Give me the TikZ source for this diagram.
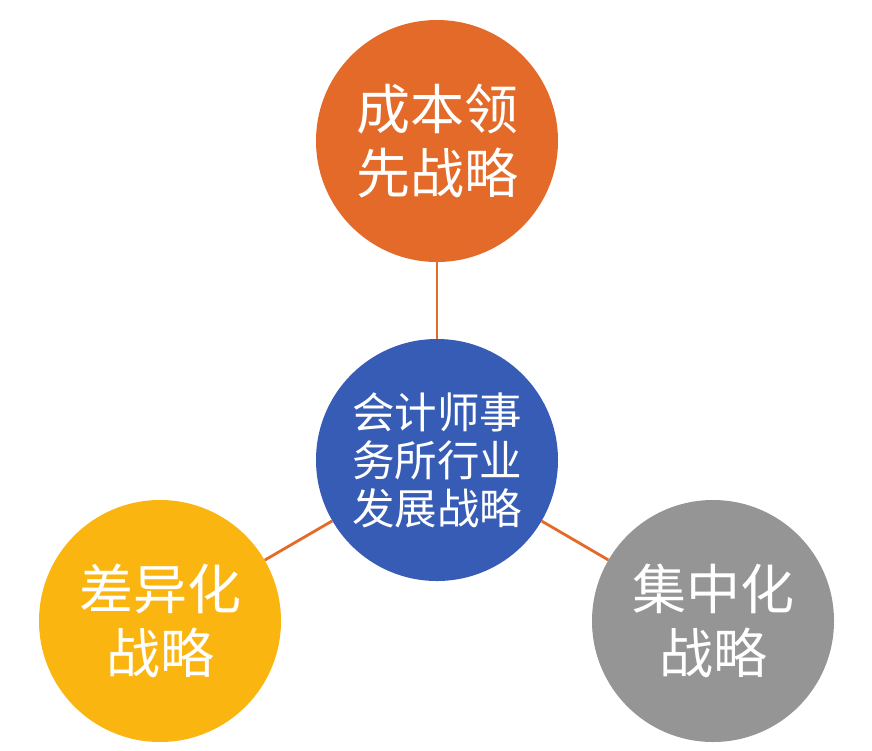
\documentclass[tikz,border=0pt]{standalone}
\usepackage{fontspec}
\newfontfamily\cjk{Noto Sans CJK SC}
\definecolor{corange}{HTML}{E36A28}
\definecolor{cblue}{HTML}{375CB6}
\definecolor{cyellow}{HTML}{FBB511}
\definecolor{cgray}{HTML}{959595}
\definecolor{cline}{HTML}{E36A28}
\begin{document}
\begin{tikzpicture}[x=1pt,y=-1pt,
  bub/.style={circle,minimum size=242pt,inner sep=0pt,text=white,align=center},
  big/.style={bub,font=\cjk\fontsize{54}{64}\selectfont},
  mid/.style={bub,font=\cjk\fontsize{42.5}{48}\selectfont},
  conn/.style={draw=cline,line width=2.8pt}]
\useasboundingbox (0,0) rectangle (872,750);
\node[big,fill=corange] (t) at (437,141) {成本领\\先战略};
\node[mid,fill=cblue] (c) at (437,460) {会计师事\\务所行业\\发展战略};
\node[big,fill=cyellow] (l) at (160,621) {差异化\\战略};
\node[big,fill=cgray] (r) at (713,621) {集中化\\战略};
\draw[conn] (t) -- (c);
\draw[conn] (c) -- (l);
\draw[conn] (c) -- (r);
\end{tikzpicture}
\end{document}
